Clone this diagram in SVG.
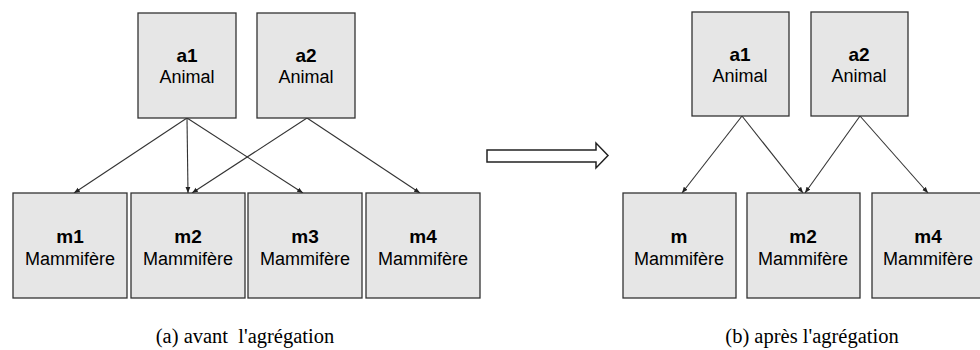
<svg xmlns="http://www.w3.org/2000/svg" width="980" height="350" viewBox="0 0 980 350">
<defs>
<style>
.box{fill:#e6e6e6;stroke:#333;stroke-width:1.3}
.n{font-family:"Liberation Sans",Arial,sans-serif;font-weight:bold;font-size:19px;fill:#000;text-anchor:middle}
.t{font-family:"Liberation Sans",Arial,sans-serif;font-size:18px;fill:#000;text-anchor:middle}
.cap{font-family:"Liberation Serif","Times New Roman",serif;font-size:20.5px;fill:#000;text-anchor:middle;white-space:pre}
.e{stroke:#333;stroke-width:1.1;fill:none;marker-end:url(#ah)}
</style>
<marker id="ah" viewBox="0 0 10 10" refX="10" refY="5" markerWidth="6" markerHeight="6" orient="auto" markerUnits="userSpaceOnUse">
<path d="M0,1 L10,5 L0,9 z" fill="#222"/>
</marker>
</defs>
<rect width="980" height="350" fill="#fff"/>
<g id="connectors">
<line class="e" x1="187" y1="118" x2="74" y2="193"/>
<line class="e" x1="187" y1="118" x2="188" y2="193"/>
<line class="e" x1="187" y1="118" x2="303" y2="193"/>
<line class="e" x1="307" y1="118" x2="192" y2="193"/>
<line class="e" x1="307" y1="118" x2="420" y2="193"/>
<line class="e" x1="742" y1="116" x2="682" y2="193"/>
<line class="e" x1="742" y1="116" x2="803" y2="193"/>
<line class="e" x1="860" y1="116" x2="805" y2="193"/>
<line class="e" x1="860" y1="116" x2="928" y2="193"/>
</g>
<g id="a1-left"><rect class="box" x="138" y="13" width="98" height="105"/><text class="n" x="187" y="62">a1</text><text class="t" x="187" y="83">Animal</text></g>
<g id="a2-left"><rect class="box" x="257" y="13" width="98" height="105"/><text class="n" x="306" y="62">a2</text><text class="t" x="306" y="83">Animal</text></g>
<g id="m1-left"><rect class="box" x="13" y="193" width="114" height="105"/><text class="n" x="70" y="243">m1</text><text class="t" x="70" y="265">Mammifère</text></g>
<g id="m2-left"><rect class="box" x="131" y="193" width="114" height="105"/><text class="n" x="188" y="243">m2</text><text class="t" x="188" y="265">Mammifère</text></g>
<g id="m3-left"><rect class="box" x="248" y="193" width="114" height="105"/><text class="n" x="305" y="243">m3</text><text class="t" x="305" y="265">Mammifère</text></g>
<g id="m4-left"><rect class="box" x="366" y="193" width="114" height="105"/><text class="n" x="423" y="243">m4</text><text class="t" x="423" y="265">Mammifère</text></g>
<g id="transform-arrow"><path d="M487,150 L596,150 L596,143 L608,155.5 L596,168 L596,162 L487,162 Z" fill="#fff" stroke="#222" stroke-width="1.5"/></g>
<g id="a1-right"><rect class="box" x="692" y="12" width="97" height="104"/><text class="n" x="740" y="61">a1</text><text class="t" x="740" y="82">Animal</text></g>
<g id="a2-right"><rect class="box" x="811" y="12" width="97" height="104"/><text class="n" x="859" y="61">a2</text><text class="t" x="859" y="82">Animal</text></g>
<g id="m-right"><rect class="box" x="623" y="193" width="113" height="105"/><text class="n" x="679" y="243">m</text><text class="t" x="679" y="265">Mammifère</text></g>
<g id="m2-right"><rect class="box" x="747" y="193" width="113" height="105"/><text class="n" x="803" y="243">m2</text><text class="t" x="803" y="265">Mammifère</text></g>
<g id="m4-right"><rect class="box" x="872" y="193" width="113" height="105"/><text class="n" x="928" y="243">m4</text><text class="t" x="928" y="265">Mammifère</text></g>
<text class="cap" x="245" y="343">(a) avant  l'agrégation</text>
<text class="cap" x="812" y="343">(b) après l'agrégation</text>
</svg>
